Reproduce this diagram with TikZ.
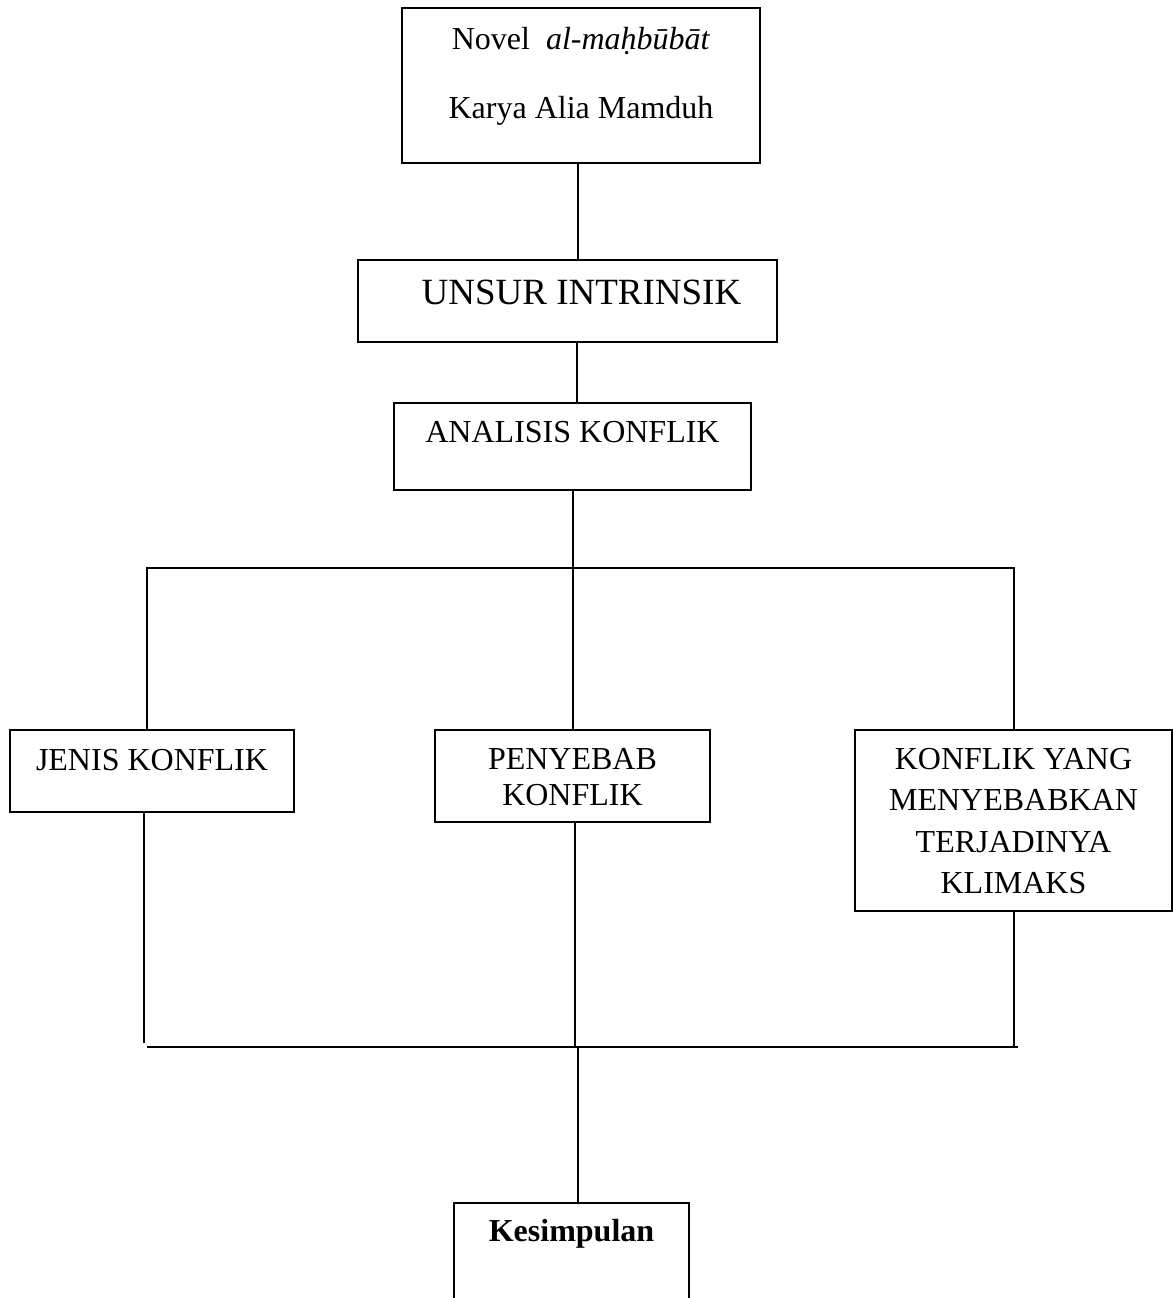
\documentclass[tikz,border=0pt]{standalone}
\usepackage{fontspec}
\setmainfont{Liberation Serif}

\begin{document}
\begin{tikzpicture}[
  x=0.5pt, y=-0.5pt,
  font=\fontsize{16pt}{18pt}\selectfont,
  box/.style={draw, line width=1pt, inner sep=0pt},
  txt/.style={anchor=base, align=center, inner sep=0pt},
  link/.style={line width=1pt}
]
\useasboundingbox (0,0) rectangle (1173,1298);
\clip (0,0) rectangle (1173,1298);

% boxes
\node[box, minimum width=179pt, minimum height=77.5pt] (novel) at (581,85.5) {};
\node[box, minimum width=209.5pt, minimum height=41pt] (unsur) at (567.5,301) {};
\node[box, minimum width=178.5pt, minimum height=43.5pt] (analisis) at (572.5,446.5) {};
\node[box, minimum width=142pt, minimum height=41pt] (jenis) at (152,771) {};
\node[box, minimum width=137.5pt, minimum height=46pt] (penyebab) at (572.5,776) {};
\node[box, minimum width=158.5pt, minimum height=90.5pt] (klimaks) at (1013.5,820.5) {};
\node[box, minimum width=117.5pt, minimum height=59pt] (simpul) at (571.5,1262) {};

% texts (anchored on the baseline of the last line)
\node[txt] (novelT) at ([yshift=-55.5pt]novel.north) {Novel~ \textit{al-ma\d{h}b\=ub\=at}\\[16.5pt]Karya Alia Mamduh};
\node[txt, font=\fontsize{18.5pt}{20pt}\selectfont] (unsurT) at ([xshift=7pt,yshift=-22.5pt]unsur.north) {UNSUR INTRINSIK};
\node[txt] (analisisT) at ([yshift=-20pt]analisis.north) {ANALISIS KONFLIK};
\node[txt] (jenisT) at ([yshift=-20.5pt]jenis.north) {JENIS KONFLIK};
\node[txt] (penyebabT) at ([yshift=-38pt]penyebab.north) {PENYEBAB\\KONFLIK};
\node[txt, font=\fontsize{16pt}{20.8pt}\selectfont] (klimaksT) at ([yshift=-82.4pt]klimaks.north) {KONFLIK YANG\\MENYEBABKAN\\TERJADINYA\\KLIMAKS};
\node[txt, font=\fontsize{16pt}{18pt}\selectfont\bfseries] (simpulT) at ([yshift=-19.5pt]simpul.north) {Kesimpulan};

% connectors
\coordinate (axis) at (578,0);
\coordinate (splitT) at (572.5,568);
\coordinate (joinB) at (578,1047);
\draw[link] (novel.south -| axis) -- (unsur.north -| axis);
\draw[link] ([xshift=-0.5pt]unsur.south -| axis) -- ([xshift=-0.5pt]analisis.north -| axis);
\draw[link] (analisis.south) -- (splitT);
\draw[link] ([xshift=-2.5pt]jenis.north) |- (splitT -| klimaks.north) -- (klimaks.north);
\draw[link] (penyebab.north) -- (penyebab.north |- splitT);
\draw[link] ([xshift=-4pt]jenis.south) -- ([xshift=-4pt,yshift=2pt]jenis.south |- joinB);
\draw[link] ([xshift=1.25pt]penyebab.south) -- ([xshift=1.25pt]penyebab.south |- joinB);
\draw[link] (klimaks.south) -- (klimaks.south |- joinB);
\draw[link] ([xshift=-2.5pt]jenis.north |- joinB) -- ([xshift=2pt]klimaks.south |- joinB);
\draw[link] (joinB) -- (joinB |- simpul.north);
\end{tikzpicture}
\end{document}
